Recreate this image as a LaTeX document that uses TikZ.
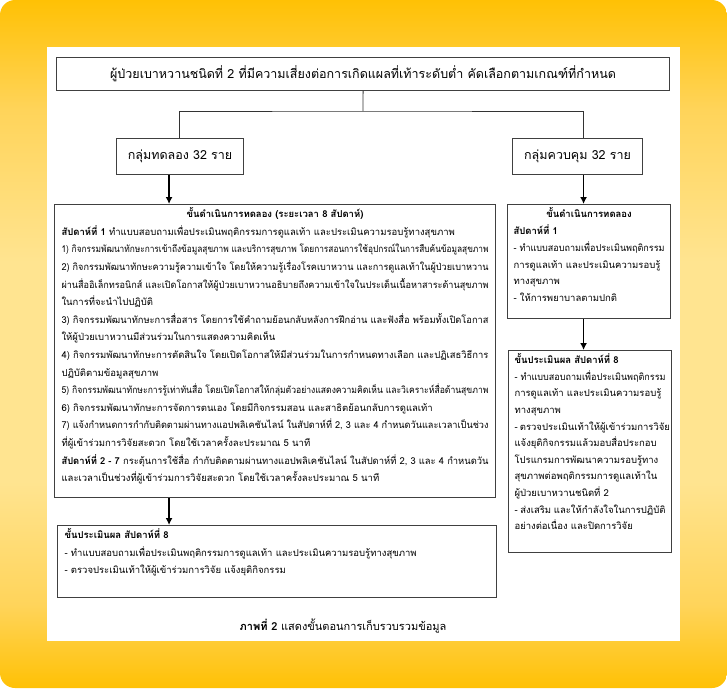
\documentclass[tikz,border=0pt]{standalone}
\usepackage{fontspec}
\setmainfont[Script=Thai]{Loma}
\usetikzlibrary{arrows.meta}
\definecolor{framedeep}{HTML}{FFC105}
\definecolor{framemid}{HTML}{FFD45A}
\definecolor{framelight}{HTML}{FFE490}
\pgfdeclareverticalshading{framefade}{100bp}{color(0bp)=(framedeep); color(25bp)=(framedeep); color(31bp)=(framemid); color(40bp)=(framelight); color(56bp)=(framelight); color(67bp)=(framemid); color(75bp)=(framedeep); color(100bp)=(framedeep)}
\newcommand\fitline[1]{\resizebox{\linewidth}{\height}{#1}}
\tikzset{
	box/.style={draw=black!75,line width=1.1pt,fill=white,anchor=north west,inner sep=0pt},
	link/.style={draw=black!80,line width=0.9pt},
	flow/.style={->,line width=1.8pt},
}
\begin{document}
\begin{tikzpicture}[x=1pt,y=-1pt,>={Latex[length=7pt,width=7pt]}]
		\useasboundingbox (0,0) rectangle (727,688);
		\shade[rounded corners=15pt,shading=framefade] (0,0) rectangle (727,688);
		\fill[white] (47,47) rectangle (680,641);
		% top of the flow
		\node[box,minimum width=613pt,minimum height=33pt] (top) at (56,57) {\fontsize{12.5}{15}\selectfont ผู้ป่วยเบาหวานชนิดที่ 2 ที่มีความเสี่ยงต่อการเกิดแผลที่เท้าระดับต่ำ คัดเลือกตามเกณฑ์ที่กำหนด};
		\node[box,minimum width=127pt,minimum height=36pt] (expgrp) at (116,138) {\fontsize{12.5}{15}\selectfont กลุ่มทดลอง 32 ราย};
		\node[box,minimum width=130pt,minimum height=36pt] (ctlgrp) at (512,138) {\fontsize{12.5}{15}\selectfont กลุ่มควบคุม 32 ราย};
		\coordinate (fork) at (363,111);
		\draw[link] (top.south) -- (fork);
		\draw[link] ([xshift=-1pt]expgrp.north) |- (fork) -| ([xshift=6pt]ctlgrp.north);
		% experimental group
		\node[box,inner xsep=7pt] (expproc) at (54,204) {\parbox[c][293pt][t]{427pt}{\fontsize{9.5}{17.6}\selectfont\vspace*{3pt}%
			\makebox[\linewidth]{\textbf{ขั้นดำเนินการทดลอง (ระยะเวลา 8 สัปดาห์)}}\\
			\textbf{สัปดาห์ที่ 1} ทำแบบสอบถามเพื่อประเมินพฤติกรรมการดูแลเท้า และประเมินความรอบรู้ทางสุขภาพ\\
			\fitline{1) กิจกรรมพัฒนาทักษะการเข้าถึงข้อมูลสุขภาพ และบริการสุขภาพ โดยการสอนการใช้อุปกรณ์ในการสืบค้นข้อมูลสุขภาพ}\\
			\fitline{2) กิจกรรมพัฒนาทักษะความรู้ความเข้าใจ โดยให้ความรู้เรื่องโรคเบาหวาน และการดูแลเท้าในผู้ป่วยเบาหวาน}\\
			\fitline{ผ่านสื่ออิเล็กทรอนิกส์ และเปิดโอกาสให้ผู้ป่วยเบาหวานอธิบายถึงความเข้าใจในประเด็นเนื้อหาสาระด้านสุขภาพ}\\
			ในการที่จะนำไปปฏิบัติ\\
			\fitline{3) กิจกรรมพัฒนาทักษะการสื่อสาร โดยการใช้คำถามย้อนกลับหลังการฝึกอ่าน และฟังสื่อ พร้อมทั้งเปิดโอกาส}\\
			ให้ผู้ป่วยเบาหวานมีส่วนร่วมในการแสดงความคิดเห็น\\
			\fitline{4) กิจกรรมพัฒนาทักษะการตัดสินใจ โดยเปิดโอกาสให้มีส่วนร่วมในการกำหนดทางเลือก และปฏิเสธวิธีการ}\\
			ปฏิบัติตามข้อมูลสุขภาพ\\
			\fitline{5) กิจกรรมพัฒนาทักษะการรู้เท่าทันสื่อ โดยเปิดโอกาสให้กลุ่มตัวอย่างแสดงความคิดเห็น และวิเคราะห์สื่อด้านสุขภาพ}\\
			6) กิจกรรมพัฒนาทักษะการจัดการตนเอง โดยมีกิจกรรมสอน และสาธิตย้อนกลับการดูแลเท้า\\
			\fitline{7) แจ้งกำหนดการกำกับติดตามผ่านทางแอปพลิเคชันไลน์ ในสัปดาห์ที่ 2, 3 และ 4 กำหนดวันและเวลาเป็นช่วง}\\
			ที่ผู้เข้าร่วมการวิจัยสะดวก โดยใช้เวลาครั้งละประมาณ 5 นาที\\
			\fitline{\textbf{สัปดาห์ที่ 2 - 7} กระตุ้นการใช้สื่อ กำกับติดตามผ่านทางแอปพลิเคชันไลน์ ในสัปดาห์ที่ 2, 3 และ 4 กำหนดวัน}\\
			และเวลาเป็นช่วงที่ผู้เข้าร่วมการวิจัยสะดวก โดยใช้เวลาครั้งละประมาณ 5 นาที}};
		\node[box,inner xsep=7pt] (expeval) at (57,525) {\parbox[c][72pt][t]{425pt}{\fontsize{9.5}{17.6}\selectfont\vspace*{3pt}%
			\textbf{ขั้นประเมินผล สัปดาห์ที่ 8}\\
			- ทำแบบสอบถามเพื่อประเมินพฤติกรรมการดูแลเท้า และประเมินความรอบรู้ทางสุขภาพ\\
			- ตรวจประเมินเท้าให้ผู้เข้าร่วมการวิจัย แจ้งยุติกิจกรรม}};
		% control group
		\node[box,inner xsep=6pt] (ctlproc) at (507,204) {\parbox[c][114pt][t]{151pt}{\fontsize{9.5}{16.8}\selectfont\vspace*{3pt}%
			\makebox[\linewidth]{\textbf{ขั้นดำเนินการทดลอง}}\\
			\textbf{สัปดาห์ที่ 1}\\
			\fitline{- ทำแบบสอบถามเพื่อประเมินพฤติกรรม}\\
			การดูแลเท้า และประเมินความรอบรู้\\
			ทางสุขภาพ\\
			- ให้การพยาบาลตามปกติ}};
		\node[box,inner xsep=6pt] (ctleval) at (508,350) {\parbox[c][202pt][t]{151pt}{\fontsize{9.5}{16.6}\selectfont\vspace*{3pt}%
			\textbf{ขั้นประเมินผล สัปดาห์ที่ 8}\\
			\fitline{- ทำแบบสอบถามเพื่อประเมินพฤติกรรม}\\
			การดูแลเท้า และประเมินความรอบรู้\\
			ทางสุขภาพ\\
			- ตรวจประเมินเท้าให้ผู้เข้าร่วมการวิจัย\\
			แจ้งยุติกิจกรรมแล้วมอบสื่อประกอบ\\
			โปรแกรมการพัฒนาความรอบรู้ทาง\\
			สุขภาพต่อพฤติกรรมการดูแลเท้าใน\\
			ผู้ป่วยเบาหวานชนิดที่ 2\\
			- ส่งเสริม และให้กำลังใจในการปฏิบัติ\\
			อย่างต่อเนื่อง และปิดการวิจัย}};
		\draw[flow] ([xshift=-11pt]expgrp.south) -- ([xshift=-11pt]expgrp.south |- expproc.north);
		\draw[flow] ([xshift=-11pt]expgrp.south |- expproc.south) -- ([xshift=-11pt]expgrp.south |- expeval.north);
		\draw[flow] ([xshift=6pt]ctlgrp.south) -- ([xshift=6pt]ctlgrp.south |- ctlproc.north);
		\draw[flow] ([xshift=6pt]ctlgrp.south |- ctlproc.south) -- ([xshift=6pt]ctlgrp.south |- ctleval.north);
		\node[anchor=base] (caption) at (343,630) {\fontsize{11}{14}\selectfont\textbf{ภาพที่ 2} แสดงขั้นตอนการเก็บรวบรวมข้อมูล};
\end{tikzpicture}
\end{document}
